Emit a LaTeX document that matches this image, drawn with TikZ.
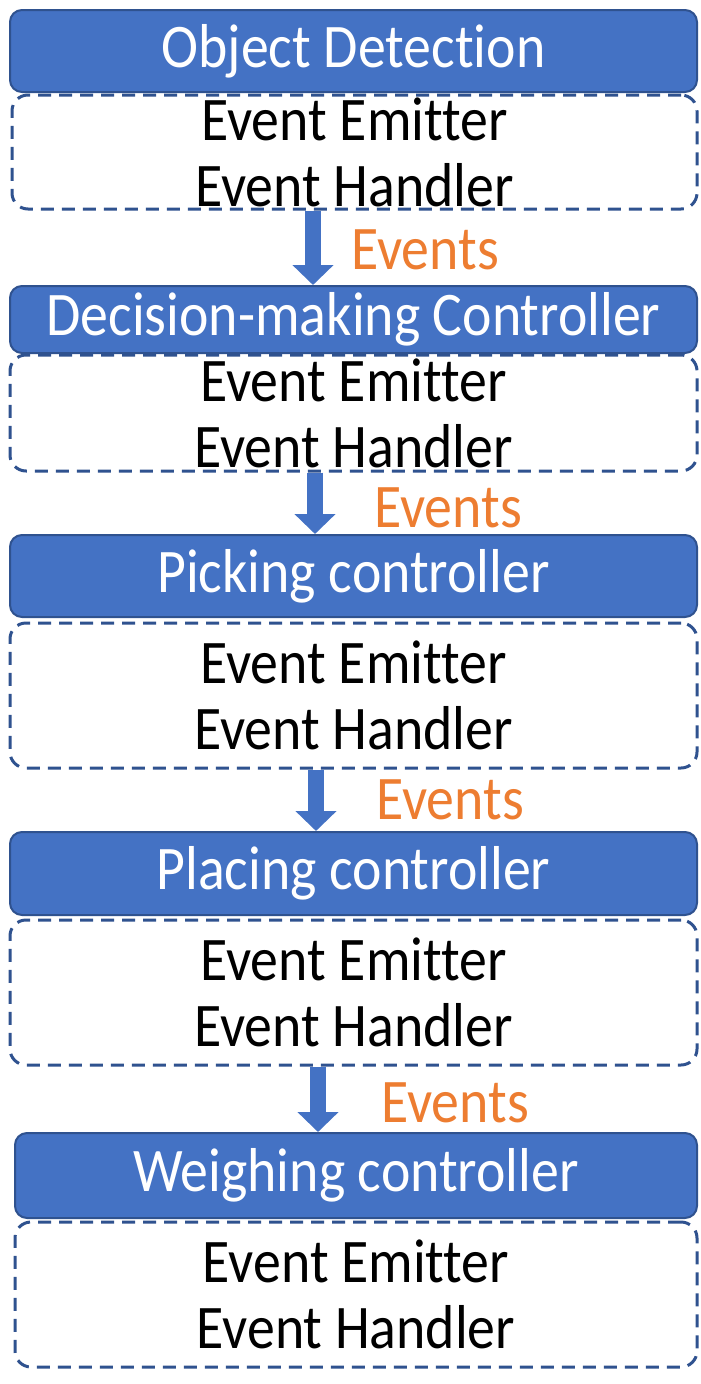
\documentclass[tikz,border=0pt]{standalone}
\usepackage{fontspec}
\setmainfont{Carlito}[FakeStretch=0.9,RawFeature={-liga;-calt;-dlig;-clig}]
\usetikzlibrary{arrows.meta}
\definecolor{boxblue}{HTML}{4472C4}
\definecolor{edgeblue}{HTML}{2F528F}
\definecolor{evorange}{HTML}{ED7D31}
\begin{document}
\begin{tikzpicture}[x=1pt,y=-1pt,
    bigfont/.style={font=\fontsize{62}{66}\selectfont},
    ctrl/.style={bigfont,draw=edgeblue,line width=2pt,fill=boxblue,text=white,
        rounded corners=12pt,inner sep=0pt},
    evbox/.style={bigfont,draw=edgeblue,line width=3pt,dash pattern=on 13pt off 8pt,
        rounded corners=16pt,inner sep=0pt,align=center},
    evarrow/.style={draw=boxblue,line width=16pt,-{Triangle[width=40pt,length=20pt]}},
    evlabel/.style={bigfont,text=evorange,inner sep=0pt}]
\useasboundingbox (0,0) rectangle (701,1384);

\node [ctrl,minimum width=687pt,minimum height=82pt]  (b1) at (353.5,  51  ) {Object Detection};
\node [evbox,minimum width=685pt,minimum height=114pt] (d1) at (354.5, 152  ) {Event Emitter\\Event Handler};
\node [ctrl,minimum width=687pt,minimum height=67pt]  (b2) at (353.5, 319.5) {Decision-making Controller};
\node [evbox,minimum width=687pt,minimum height=116pt] (d2) at (353.5, 413  ) {Event Emitter\\Event Handler};
\node [ctrl,minimum width=687pt,minimum height=82pt]  (b3) at (353.5, 576  ) {Picking controller};
\node [evbox,minimum width=687pt,minimum height=145pt] (d3) at (353.5, 695.5) {Event Emitter\\Event Handler};
\node [ctrl,minimum width=687pt,minimum height=83pt]  (b4) at (353.5, 873.5) {Placing controller};
\node [evbox,minimum width=687pt,minimum height=145pt] (d4) at (353.5, 992.5) {Event Emitter\\Event Handler};
\node [ctrl,minimum width=682pt,minimum height=85pt]  (b5) at (356  ,1175.5) {Weighing controller};
\node [evbox,minimum width=682pt,minimum height=145pt] (d5) at (356  ,1294.5) {Event Emitter\\Event Handler};

\draw [evarrow] (d1.south -| 313,0) -- (b2.north -| 313,0);
\draw [evarrow] (d2.south -| 315,0) -- (b3.north -| 315,0);
\draw [evarrow] (d3.south -| 316,0) -- (b4.north -| 316,0);
\draw [evarrow] (d4.south -| 318,0) -- (b5.north -| 318,0);

\node [evlabel] (ev1) at (425, 250) {Events};
\node [evlabel] (ev2) at (448, 508) {Events};
\node [evlabel] (ev3) at (450, 800) {Events};
\node [evlabel] (ev4) at (455,1103) {Events};
\end{tikzpicture}
\end{document}
